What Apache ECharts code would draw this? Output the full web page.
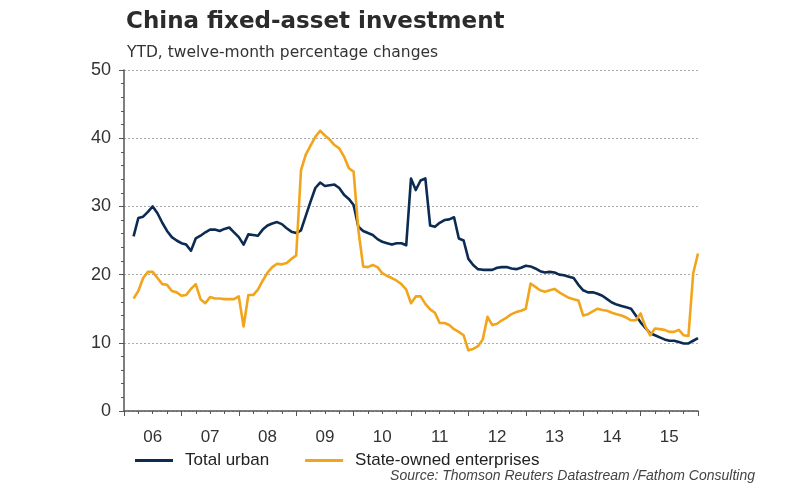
<!DOCTYPE html>
<html>
<head>
<meta charset="utf-8">
<script src="https://cdn.jsdelivr.net/npm/echarts@6/dist/echarts.min.js"></script>
<style>
html,body{margin:0;padding:0;background:#fff;}
#chart{width:806px;height:500px;}
</style>
</head>
<body>
<div id="chart"></div>
<script>
// Tick labels (years) and month range of the data (Feb 2006 .. Dec 2015, monthly, YTD)
const yearLabels = ['06','07','08','09','10','11','12','13','14','15'];
const firstYear = 2006;
const firstMonth = 2;

// Total urban fixed-asset investment, YTD y/y %
const totalUrban = [
  25.6,28.3,28.5,29.2,30.0,29.0,27.6,26.4,25.5,25.0,24.6,
  24.4,23.5,25.3,25.7,26.2,26.6,26.6,26.4,26.7,26.9,26.2,25.5,
  24.4,25.9,25.8,25.7,26.6,27.2,27.5,27.7,27.4,26.8,26.3,26.1,
  26.5,28.6,30.7,32.7,33.5,33.0,33.1,33.2,32.7,31.7,31.1,30.2,
  27.0,26.4,26.1,25.8,25.2,24.8,24.6,24.4,24.6,24.6,24.3,34.1,
  32.4,33.8,34.1,27.2,27.0,27.6,28.0,28.1,28.4,25.3,25.0,22.3,
  21.4,20.8,20.7,20.7,20.7,21.0,21.1,21.1,20.9,20.8,21.0,21.3,
  21.2,20.9,20.5,20.3,20.4,20.3,20.0,19.9,19.7,19.5,18.5,17.7,
  17.4,17.4,17.2,16.9,16.4,15.9,15.6,15.4,15.2,15.0,14.0,13.0,
  12.2,11.4,11.1,10.8,10.5,10.3,10.3,10.1,9.9,9.9,10.3,10.7
];

// State-owned enterprises, YTD y/y %
const stateOwned = [
  16.5,17.6,19.5,20.4,20.4,19.5,18.6,18.5,17.6,17.4,16.9,
  17.0,17.9,18.6,16.4,15.8,16.7,16.5,16.5,16.4,16.4,16.4,16.8,
  12.4,17.0,17.0,17.8,19.1,20.3,21.1,21.6,21.5,21.7,22.3,22.8,
  35.3,37.6,38.9,40.2,41.1,40.4,39.8,39.0,38.5,37.3,35.6,35.1,
  26.5,21.2,21.1,21.4,21.1,20.2,19.8,19.5,19.1,18.6,17.8,15.8,
  16.8,16.8,15.7,14.9,14.4,12.9,12.9,12.6,12.0,11.6,11.1,8.9,
  9.1,9.5,10.5,13.8,12.6,12.8,13.3,13.7,14.2,14.5,14.7,15.0,
  18.7,18.2,17.7,17.5,17.7,17.9,17.4,17.0,16.6,16.4,16.2,14.0,
  14.2,14.6,15.0,14.8,14.7,14.4,14.2,14.0,13.7,13.3,13.3,14.3,
  12.4,11.1,12.1,12.0,11.9,11.6,11.6,11.9,11.1,11.0,20.2,23.1
];

// month i (0-based from firstMonth) -> position in years at month end
function toPairs(vals){
  return vals.map((v,i)=>[firstYear + (firstMonth + i)/12, v]);
}

const FONT = 'Liberation Sans';
const chart = echarts.init(document.getElementById('chart'), null, {renderer:'canvas'});
chart.setOption({
  animation:false,
  backgroundColor:'#ffffff',
  title:[
    {text:'China fixed-asset investment', left:121, top:6,
     textStyle:{fontFamily:'DejaVu Sans', fontWeight:'bold', fontSize:23, color:'#2b2b2b'}},
    {text:'YTD, twelve-month percentage changes', left:122, top:40,
     textStyle:{fontFamily:'DejaVu Sans', fontWeight:'normal', fontSize:15.5, color:'#333'}},
    {text:'Source: Thomson Reuters Datastream /Fathom Consulting', right:46, top:464,
     textStyle:{fontFamily:FONT, fontStyle:'italic', fontWeight:'normal', fontSize:14, color:'#444'}}
  ],
  legend:{
    left:130, top:447, itemGap:36, itemWidth:38, itemHeight:3, icon:'rect',
    textStyle:{fontFamily:FONT, fontSize:17, color:'#222', padding:[0,0,0,7]},
    data:['Total urban','State-owned enterprises']
  },
  grid:{left:124, right:108, top:70, bottom:89},
  xAxis:[
    {type:'value', min:2006, max:2016, interval:1,
     axisLine:{show:true, onZero:false, lineStyle:{color:'#555', width:1.5}},
     axisTick:{show:true, length:5, lineStyle:{color:'#555'}},
     minorTick:{show:true, splitNumber:4, length:3, lineStyle:{color:'#555'}},
     axisLabel:{show:false}, splitLine:{show:false}},
    {type:'category', data:yearLabels, boundaryGap:true, position:'bottom',
     axisLine:{show:false}, axisTick:{show:false}, splitLine:{show:false},
     axisLabel:{margin:18, fontFamily:FONT, fontSize:17, color:'#333', interval:0}}
  ],
  yAxis:{
    type:'value', min:0, max:50, interval:10,
    axisLine:{show:true, lineStyle:{color:'#555', width:1.5}},
    axisTick:{show:true, length:5, lineStyle:{color:'#555'}},
    minorTick:{show:true, splitNumber:5, length:3, lineStyle:{color:'#555'}},
    axisLabel:{margin:13, fontFamily:FONT, fontSize:18, color:'#333'},
    splitLine:{show:true, lineStyle:{color:'#aaa', type:[2,2], width:1}}
  },
  series:[
    {name:'Total urban', type:'line', xAxisIndex:0, data:toPairs(totalUrban),
     showSymbol:false, symbol:'none', color:'#0c2b52',
     lineStyle:{width:2.6, color:'#0c2b52', join:'round'}},
    {name:'State-owned enterprises', type:'line', xAxisIndex:0, data:toPairs(stateOwned),
     showSymbol:false, symbol:'none', color:'#f2a51c',
     lineStyle:{width:2.6, color:'#f2a51c', join:'round'}}
  ]
});
</script>
</body>
</html>
